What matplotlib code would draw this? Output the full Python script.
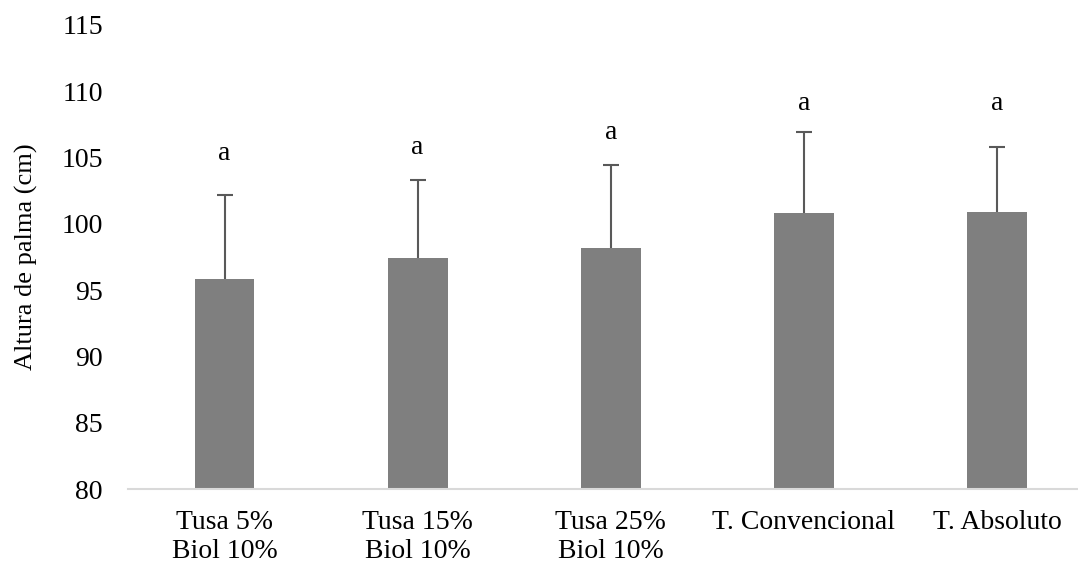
import numpy as np
import matplotlib
matplotlib.use("Agg")
import matplotlib.pyplot as plt

# data
categories = ["Tusa 5%\nBiol 10%", "Tusa 15%\nBiol 10%", "Tusa 25%\nBiol 10%",
              "T. Convencional", "T. Absoluto"]
heights = [95.84, 97.42, 98.17, 100.81, 100.91]
errors = [6.33, 5.88, 6.26, 6.09, 4.90]
letters = ["a", "a", "a", "a", "a"]
letter_y = [104.8, 105.3, 106.4, 108.6, 108.6]

plt.rcParams['font.family'] = ['Liberation Serif', 'DejaVu Serif']
fs = 20

fig = plt.figure(figsize=(10.78, 5.66), dpi=100)
ax = fig.add_axes([0.1187, 0.136, 0.8813, 0.820])

x = np.arange(len(categories))
h = np.array(heights)
e = np.array(errors)
ax.bar(x, h - 80, bottom=80, width=0.31, color="#7f7f7f", zorder=2)
# upper-only error bars with a cap at the top
ax.vlines(x, h, h + e, color="#595959", linewidth=1.5, zorder=3)
ax.plot(x, h + e, linestyle="none", marker="_", markersize=11,
        markeredgewidth=1.5, color="#595959", zorder=3)

for xi, yi, t in zip(x, letter_y, letters):
    ax.text(xi, yi, t, ha="center", va="baseline", fontsize=fs)

ax.set_xlim(-0.5, 4.42)
ax.set_ylim(80, 115)
ax.set_yticks(np.arange(80, 116, 5))
ax.set_xticks(x)
ax.set_xticklabels(categories, fontsize=fs, linespacing=1.2)
ax.tick_params(axis="y", length=0, pad=18, labelsize=fs)
ax.tick_params(axis="x", length=0, pad=15)

for s in ["top", "right", "left"]:
    ax.spines[s].set_visible(False)
ax.spines["bottom"].set_color("#d9d9d9")
ax.spines["bottom"].set_linewidth(1.5)

ax.set_ylabel("Altura de palma (cm)", fontsize=19, labelpad=17)

fig.savefig("out.png", dpi=100)
